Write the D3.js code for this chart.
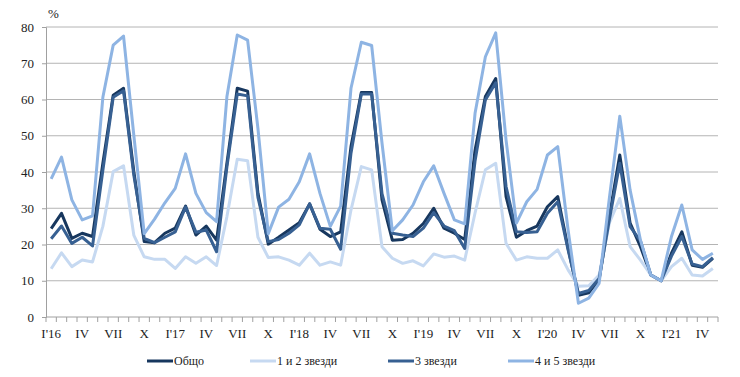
<!DOCTYPE html>
<html>
<head>
<meta charset="utf-8">
<script src="https://cdn.jsdelivr.net/npm/d3@7"></script>
<style>
  body { margin: 0; background: #fff; }
  svg text { font-family: "Liberation Serif", "Times New Roman", serif; fill: #222; }
</style>
</head>
<body>
<div id="chart"></div>
<script>
// monthly values, Jan 2016 - May 2021
const months = d3.range(65);
const quarterLabels = ["I'16", "IV", "VII", "X", "I'17", "IV", "VII", "X", "I'18", "IV", "VII", "X",
  "I'19", "IV", "VII", "X", "I'20", "IV", "VII", "X", "I'21", "IV"];
const yTicks = [0, 10, 20, 30, 40, 50, 60, 70, 80];

const seriesNames = ["Общо", "1 и 2 звезди", "3 звезди", "4 и 5 звезди"];

const total = [
  24.4, 28.6, 21.7, 23.1, 22.2, 42.4, 61.2, 63.1, 40.0, 20.8, 20.5, 23.1,
  24.5, 30.6, 22.6, 25.1, 21.2, 42.4, 63.1, 62.3, 34.1, 20.1, 22.0, 24.0,
  26.0, 31.2, 24.2, 22.2, 23.5, 47.0, 61.9, 61.9, 32.3, 21.2, 21.4, 23.1,
  25.8, 30.0, 24.5, 23.1, 21.4, 46.0, 60.8, 65.8, 33.2, 22.0, 23.8, 25.1,
  30.4, 33.2, 19.0, 6.0, 6.7, 10.2, 28.0, 44.7, 25.9, 19.4, 11.6, 10.0,
  17.6, 23.5, 14.3, 13.7, 16.2
];
const stars12 = [
  13.3, 17.7, 13.9, 15.7, 15.2, 25.0, 40.1, 41.7, 22.5, 16.6, 15.9, 15.9,
  13.4, 16.6, 14.8, 16.6, 14.2, 27.7, 43.5, 43.1, 22.0, 16.4, 16.6, 15.7,
  14.3, 17.6, 14.3, 15.2, 14.3, 29.5, 41.5, 40.6, 19.4, 16.2, 14.8, 15.5,
  14.1, 17.4, 16.5, 16.8, 15.7, 28.7, 40.6, 42.4, 20.3, 15.7, 16.6, 16.2,
  16.2, 18.5, 13.0, 8.5, 8.6, 11.6, 26.0, 32.7, 19.4, 15.7, 11.6, 10.0,
  13.9, 16.2, 11.6, 11.3, 13.4
];
const stars3 = [
  21.6, 25.1, 20.3, 22.0, 19.6, 40.5, 60.6, 62.4, 39.0, 21.7, 20.5, 22.0,
  23.5, 30.3, 23.4, 24.0, 18.0, 41.4, 61.5, 61.0, 33.0, 20.8, 21.4, 23.1,
  25.4, 31.2, 24.5, 24.2, 18.7, 45.2, 61.5, 61.5, 34.0, 23.1, 22.6, 22.2,
  24.5, 28.8, 25.1, 23.8, 18.9, 43.0, 59.9, 64.6, 36.0, 23.5, 23.3, 23.5,
  28.6, 31.8, 18.5, 6.5, 7.3, 10.6, 27.0, 42.4, 24.9, 21.0, 11.6, 10.0,
  16.8, 22.2, 14.6, 13.9, 16.4
];
const stars45 = [
  38.1, 44.1, 32.3, 26.8, 27.9, 60.6, 75.0, 77.5, 50.0, 23.0, 27.0, 31.5,
  35.5, 45.0, 34.1, 28.8, 26.3, 60.8, 77.8, 76.4, 52.0, 23.0, 30.3, 32.5,
  37.3, 45.0, 34.1, 25.0, 30.6, 63.1, 75.8, 74.9, 48.0, 23.8, 26.8, 30.9,
  37.3, 41.7, 34.1, 26.8, 25.7, 56.2, 71.8, 78.4, 48.8, 25.9, 31.8, 35.2,
  44.7, 47.0, 24.0, 3.8, 5.2, 9.3, 33.0, 55.4, 35.0, 21.2, 11.6, 10.0,
  22.2, 30.9, 18.5, 15.9, 17.6
];

const colors = ["#17375e", "#c6d9f1", "#376092", "#8eb4e3"];
const allSeries = [total, stars12, stars3, stars45];

const W = 740, H = 377;
const margin = { top: 27, right: 22, bottom: 60, left: 46 };
const width = W - margin.left - margin.right,
      height = H - margin.top - margin.bottom;

const svg = d3.select("#chart").append("svg")
  .attr("width", W)
  .attr("height", H);

const g = svg.append("g")
  .attr("transform", `translate(${margin.left},${margin.top})`);

const x = d3.scaleBand()
  .domain(months)
  .range([0, width]);

const y = d3.scaleLinear()
  .domain([0, 80])
  .range([height, 0]);

// gridlines
g.selectAll(".grid")
  .data(yTicks.slice(1))
  .enter()
  .append("line")
  .attr("x1", 0)
  .attr("x2", width)
  .attr("y1", d => y(d))
  .attr("y2", d => y(d))
  .attr("stroke", "#b4b4b4")
  .attr("stroke-width", 1);

// y axis
const yAxis = g.append("g")
  .call(d3.axisLeft(y).tickValues(yTicks).tickSize(4).tickPadding(8));
yAxis.select(".domain").attr("stroke", "#a0a0a0");
yAxis.selectAll(".tick line").attr("stroke", "#a0a0a0");
yAxis.selectAll("text").attr("font-size", "13px").attr("fill", "#222")
  .style("font-family", "'Liberation Serif', serif");

// x axis: line + ticks at every month boundary
const xAxis = g.append("g").attr("transform", `translate(0,${height})`);
xAxis.append("line")
  .attr("x1", 0).attr("x2", width)
  .attr("y1", 0).attr("y2", 0)
  .attr("stroke", "#a0a0a0");
xAxis.selectAll(".mtick")
  .data(d3.range(months.length + 1))
  .enter()
  .append("line")
  .attr("x1", d => d * x.step())
  .attr("x2", d => d * x.step())
  .attr("y1", 0).attr("y2", 5)
  .attr("stroke", "#a0a0a0");
xAxis.selectAll(".qlabel")
  .data(quarterLabels)
  .enter()
  .append("text")
  .attr("x", (d, i) => x(i * 3) + x.bandwidth() / 2)
  .attr("y", 21)
  .attr("text-anchor", "middle")
  .attr("font-size", "13px")
  .text(d => d);

// % label
svg.append("text")
  .attr("x", 48)
  .attr("y", 18)
  .attr("font-size", "13px")
  .text("%");

const line = d3.line()
  .x((d, i) => x(i) + x.bandwidth() / 2)
  .y(d => y(d));

allSeries.forEach((values, i) => {
  g.append("path")
    .datum(values)
    .attr("fill", "none")
    .attr("stroke", colors[i])
    .attr("stroke-width", 3)
    .attr("stroke-linejoin", "round")
    .attr("d", line);
});

// legend
const legendX = [147, 250, 388, 508];
const legend = svg.append("g").attr("transform", "translate(0,361)");
seriesNames.forEach((name, i) => {
  legend.append("line")
    .attr("x1", legendX[i]).attr("x2", legendX[i] + 26)
    .attr("y1", 0).attr("y2", 0)
    .attr("stroke", colors[i])
    .attr("stroke-width", 3);
  legend.append("text")
    .attr("x", legendX[i] + 27)
    .attr("y", 4)
    .attr("font-size", "12px")
    .text(name);
});
</script>
</body>
</html>
